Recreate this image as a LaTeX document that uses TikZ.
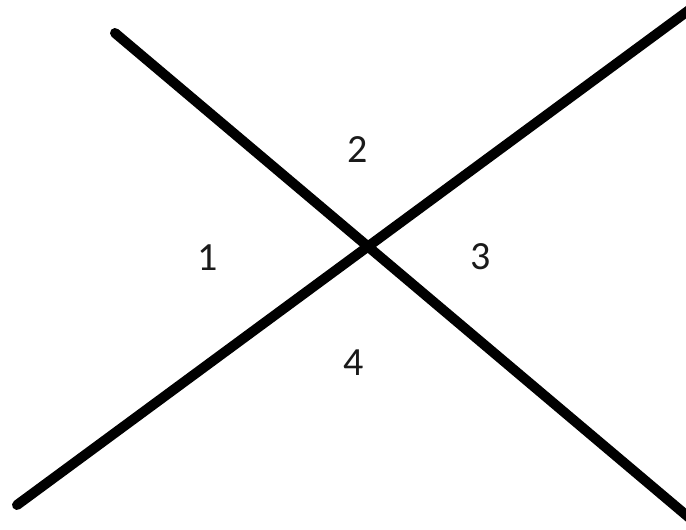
\documentclass[tikz,border=0pt]{standalone}
\usepackage{fontspec}
\setmainfont{Carlito}
\usepackage{tikz}
\definecolor{ink}{HTML}{000000}
\definecolor{numink}{HTML}{1A1A1A}

\begin{document}
\begin{tikzpicture}[x=0.75pt,y=-0.75pt,
  bar/.style={draw=ink,line width=7.5pt,line cap=round},
  num/.style={font=\fontsize{30}{36}\selectfont,text=numink,inner sep=0pt}]
\useasboundingbox (0,0) rectangle (686,530);
\clip (0,0) rectangle (686,530);
\coordinate (fallTop) at (115,33);
\coordinate (fallEnd) at (699,526);
\coordinate (riseEnd) at (17,505);
\coordinate (riseTop) at (700,2);
\draw[bar] (fallTop) -- (fallEnd);
\draw[bar] (riseEnd) -- (riseTop);
\node[num] (left) at (208,258) {1};
\node[num] (upper) at (358,150) {2};
\node[num] (right) at (481,257) {3};
\node[num] (lower) at (354,363) {4};
\end{tikzpicture}
\end{document}
